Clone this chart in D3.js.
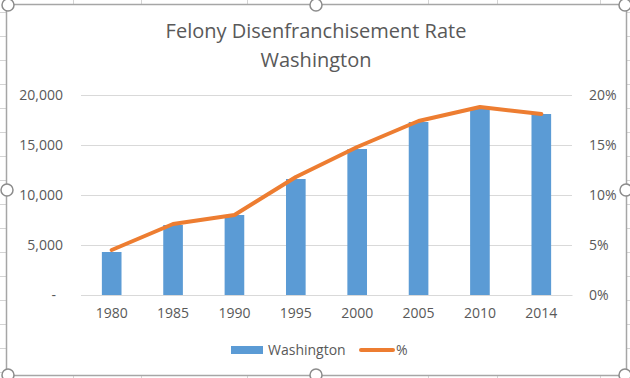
<!DOCTYPE html>
<html>
<head>
<meta charset="utf-8">
<script src="https://cdn.jsdelivr.net/npm/d3@7"></script>
<style>
  body { margin: 0; background: #fff; }
  text { font-family: "Open Sans", "Noto Sans", sans-serif; fill: #595959; }
</style>
</head>
<body>
<div id="wrapper"></div>
<script>
var years = ["1980", "1985", "1990", "1995", "2000", "2005", "2010", "2014"];
var disenfranchised = [4300, 7000, 8000, 11600, 14600, 17300, 18700, 18100];
var rate = [4.5, 7.1, 8.0, 11.8, 14.8, 17.4, 18.8, 18.1];
var leftTicks = [0, 5000, 10000, 15000, 20000];
var rightTicks = [0, 5, 10, 15, 20];

var W = 630, H = 378;
var svg = d3.select('#wrapper').append('svg')
            .attr('width', W).attr('height', H);

// spreadsheet cells behind the chart
var sheet = svg.append('g').attr('stroke', '#d4d4d4').attr('stroke-width', 1);
[73, 141, 247, 315, 428, 497, 600].forEach(function(x) {
  sheet.append('line').attr('x1', x + .5).attr('x2', x + .5).attr('y1', 0).attr('y2', H);
});
d3.range(0, H, 24).forEach(function(y) {
  sheet.append('line').attr('x1', 0).attr('x2', W).attr('y1', y + 12.5).attr('y2', y + 12.5);
});

// chart area
svg.append('rect')
   .attr('x', 6.5).attr('y', 4.5).attr('width', 620).attr('height', 371)
   .attr('fill', '#fff').attr('stroke', '#a6a6a6').attr('stroke-width', 1.5);

var plot = { left: 81, right: 572, top: 95, bottom: 295 };

var x = d3.scaleBand().domain(years).range([plot.left, plot.right]).paddingInner(0.68).paddingOuter(0.34);
var yL = d3.scaleLinear().domain([0, 20000]).range([plot.bottom, plot.top]);
var yR = d3.scaleLinear().domain([0, 20]).range([plot.bottom, plot.top]);

// gridlines
svg.append('g').selectAll('line').data(leftTicks).enter().append('line')
   .attr('x1', plot.left).attr('x2', plot.right)
   .attr('y1', function(d) { return Math.round(yL(d)) + .5; })
   .attr('y2', function(d) { return Math.round(yL(d)) + .5; })
   .attr('stroke', '#d9d9d9').attr('stroke-width', 1);

// left axis
var leftAxis = svg.append('g').attr('transform', 'translate(63,0)')
   .call(d3.axisLeft(yL).tickValues(leftTicks).tickSize(0).tickPadding(0)
     .tickFormat(function(d) { return d === 0 ? '-' : d3.format(',')(d); }));
leftAxis.select('.domain').remove();
leftAxis.selectAll('text').style('font-size', '14px').attr('fill', '#595959');
leftAxis.selectAll('text').filter(function(d) { return d === 0; }).attr('x', -7);

// right axis
var rightAxis = svg.append('g').attr('transform', 'translate(589,0)')
   .call(d3.axisRight(yR).tickValues(rightTicks).tickSize(0).tickPadding(0)
     .tickFormat(function(d) { return d + '%'; }));
rightAxis.select('.domain').remove();
rightAxis.selectAll('text').style('font-size', '14px').attr('fill', '#595959');

// bars
svg.append('g').selectAll('rect').data(disenfranchised).enter().append('rect')
   .attr('x', function(d, i) { return x(years[i]); })
   .attr('width', x.bandwidth())
   .attr('y', function(d) { return yL(d); })
   .attr('height', function(d) { return yL(0) - yL(d); })
   .attr('fill', '#5b9bd5');

// x axis
var bottomAxis = svg.append('g').attr('transform', 'translate(0,' + plot.bottom + ')')
   .call(d3.axisBottom(x).tickSize(0).tickPadding(13));
bottomAxis.select('.domain').attr('stroke', '#d9d9d9');
bottomAxis.selectAll('text').style('font-size', '14px').attr('fill', '#595959');

// rate line
var line = d3.line()
   .x(function(d, i) { return x(years[i]) + x.bandwidth() / 2; })
   .y(function(d) { return yR(d); });
svg.append('path').datum(rate)
   .attr('d', line).attr('fill', 'none')
   .attr('stroke', '#ed7d31').attr('stroke-width', 4).attr('stroke-linecap', 'round').attr('stroke-linejoin', 'round');

// title
var title = svg.append('text').attr('text-anchor', 'middle').style('font-size', '20px');
title.append('tspan').attr('x', 316).attr('y', 38).text('Felony Disenfranchisement Rate');
title.append('tspan').attr('x', 316).attr('y', 67).text('Washington');

// legend
var legend = svg.append('g');
legend.append('rect').attr('x', 231).attr('y', 346).attr('width', 32).attr('height', 8).attr('fill', '#5b9bd5');
legend.append('text').attr('x', 268).attr('y', 355).style('font-size', '14px').text('Washington');
legend.append('line').attr('x1', 361).attr('x2', 393).attr('y1', 350).attr('y2', 350)
      .attr('stroke', '#ed7d31').attr('stroke-width', 4).attr('stroke-linecap', 'round');
legend.append('text').attr('x', 396).attr('y', 355).style('font-size', '14px').text('%');

// selection handles
var handles = [[8, 5], [316, 5], [625, 5], [7, 190], [626, 190], [8, 375], [316, 375], [625, 375]];
svg.append('g').selectAll('circle').data(handles).enter().append('circle')
   .attr('cx', function(d) { return d[0]; }).attr('cy', function(d) { return d[1]; })
   .attr('r', 6).attr('fill', '#fff').attr('stroke', '#8c8c8c').attr('stroke-width', 1.5);
</script>
</body>
</html>
